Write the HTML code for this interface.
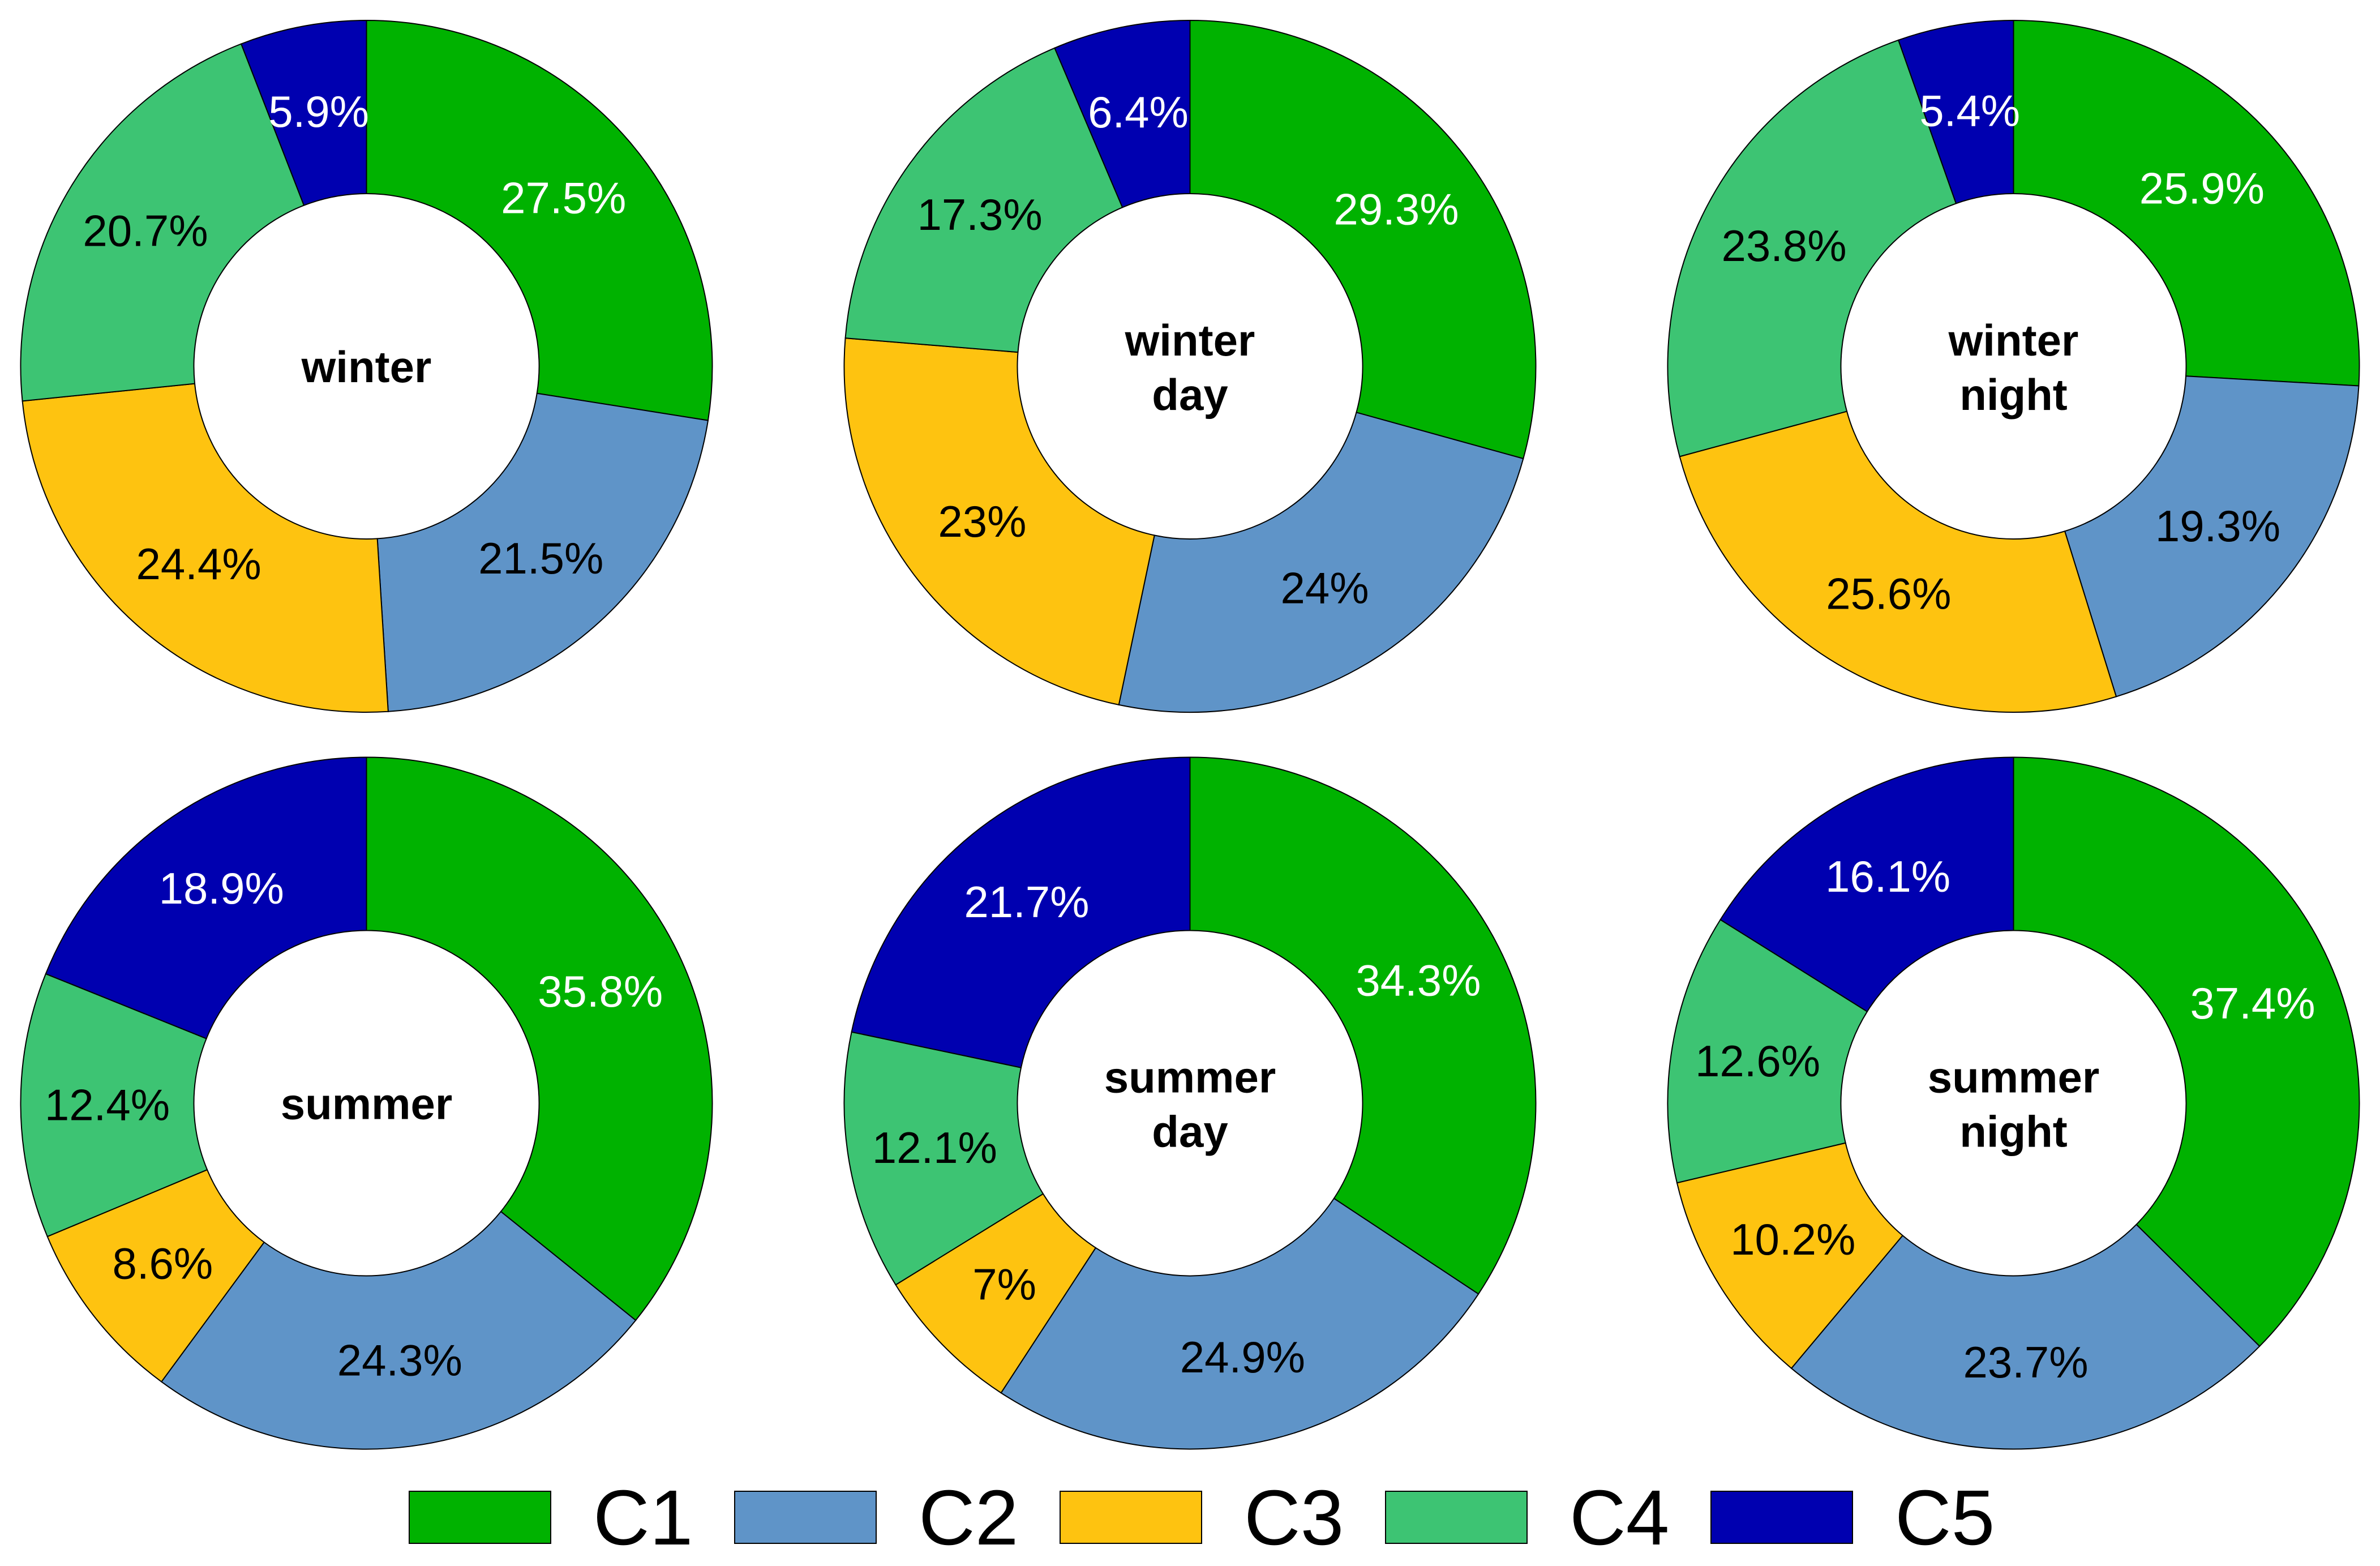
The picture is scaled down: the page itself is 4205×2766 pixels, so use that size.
<!DOCTYPE html>
<html lang="en">
<head>
<meta charset="utf-8">
<title>Cluster share donut charts</title>
<style>
html,body{margin:0;padding:0;background:#fff;}
body{width:4205px;height:2766px;overflow:hidden;}
svg{display:block;}
text{font-family:"Liberation Sans",Arial,sans-serif;}
</style>
</head>
<body>
<svg id="chart" xmlns="http://www.w3.org/2000/svg" width="4205" height="2766" viewBox="0 0 4205 2766"></svg>
<script>
const categories = ['C1', 'C2', 'C3', 'C4', 'C5'];
const winterValues = [27.5, 21.5, 24.4, 20.7, 5.9];
const winterDayValues = [29.3, 24, 23, 17.3, 6.4];
const winterNightValues = [25.9, 19.3, 25.6, 23.8, 5.4];
const summerValues = [35.8, 24.3, 8.6, 12.4, 18.9];
const summerDayValues = [34.3, 24.9, 7, 12.1, 21.7];
const summerNightValues = [37.4, 23.7, 10.2, 12.6, 16.1];
const panelValues = [winterValues, winterDayValues, winterNightValues, summerValues, summerDayValues, summerNightValues];
const panelTitles = [['winter'], ['winter', 'day'], ['winter', 'night'], ['summer'], ['summer', 'day'], ['summer', 'night']];

const sliceColors = ['#00B200', '#5F94C8', '#FEC310', '#3DC473', '#0000B0'];
const labelColors = ['#fff', '#000', '#000', '#000', '#fff'];
const SVG_NS = 'http://www.w3.org/2000/svg';
const svg = document.getElementById('chart');
const OUTER_R = 611;
const INNER_R = 305;
const LABEL_R = 458;

function panelX(col) { return 647.5 + col * 1455; }
function panelY(row) { return 647 + row * 1301.5; }
function angleOf(fraction) { return fraction * 2 * Math.PI; }
function polarX(cx, r, a) { return cx + r * Math.sin(a); }
function polarY(cy, r, a) { return cy - r * Math.cos(a); }
function slug(parts) { return parts.join('-'); }

function slicePath(cx, cy, a0, a1) {
  const large = a1 - a0 > Math.PI ? 1 : 0;
  return 'M' + polarX(cx, OUTER_R, a0) + ' ' + polarY(cy, OUTER_R, a0) +
    'A' + OUTER_R + ' ' + OUTER_R + ' 0 ' + large + ' 1 ' + polarX(cx, OUTER_R, a1) + ' ' + polarY(cy, OUTER_R, a1) +
    'L' + polarX(cx, INNER_R, a1) + ' ' + polarY(cy, INNER_R, a1) +
    'A' + INNER_R + ' ' + INNER_R + ' 0 ' + large + ' 0 ' + polarX(cx, INNER_R, a0) + ' ' + polarY(cy, INNER_R, a0) + 'Z';
}

panelValues.forEach(function (values, p) {
  const cx = panelX(p % 3);
  const cy = panelY(Math.floor(p / 3));
  const name = slug(panelTitles[p]);
  const total = values.reduce(function (s, v) { return s + v; }, 0);

  const group = document.createElementNS(SVG_NS, 'g');
  
  
  svg.appendChild(group);

  let cumulative = 0;
  values.forEach(function (v, i) {
    const a0 = angleOf(cumulative / total);
    const a1 = angleOf((cumulative + v) / total);
    const mid = (a0 + a1) / 2;
    cumulative += v;

    const slice = document.createElementNS(SVG_NS, 'path');
    slice.setAttribute('d', slicePath(cx, cy, a0, a1));
    slice.setAttribute('fill', sliceColors[i]);
    slice.setAttribute('stroke', '#000');
    slice.setAttribute('stroke-width', '2');
    
    
    group.appendChild(slice);

    const label = document.createElementNS(SVG_NS, 'text');
    label.setAttribute('x', polarX(cx, LABEL_R, mid));
    label.setAttribute('y', polarY(cy, LABEL_R, mid) + 27);
    label.setAttribute('text-anchor', 'middle');
    label.setAttribute('font-size', '78');
    label.setAttribute('fill', labelColors[i]);
    
    
    label.textContent = v + '%';
    group.appendChild(label);
  });

  const lines = panelTitles[p];
  lines.forEach(function (line, k) {
    const title = document.createElementNS(SVG_NS, 'text');
    const offset = lines.length === 1 ? 28 : (k === 0 ? -19 : 77);
    title.setAttribute('x', cx);
    title.setAttribute('y', cy + offset);
    title.setAttribute('text-anchor', 'middle');
    title.setAttribute('font-size', '78');
    title.setAttribute('font-weight', 'bold');
    title.setAttribute('fill', '#000');
    
    
    title.textContent = line;
    group.appendChild(title);
  });
});

const legend = document.createElementNS(SVG_NS, 'g');


svg.appendChild(legend);

categories.forEach(function (cat, i) {
  const x = 723 + i * 575;
  const swatch = document.createElementNS(SVG_NS, 'rect');
  swatch.setAttribute('x', x);
  swatch.setAttribute('y', 2634);
  swatch.setAttribute('width', 250);
  swatch.setAttribute('height', 92);
  swatch.setAttribute('fill', sliceColors[i]);
  swatch.setAttribute('stroke', '#000');
  swatch.setAttribute('stroke-width', '2');
  
  
  legend.appendChild(swatch);

  const text = document.createElementNS(SVG_NS, 'text');
  text.setAttribute('x', x + 325);
  text.setAttribute('y', 2728);
  text.setAttribute('font-size', '138');
  text.setAttribute('fill', '#000');
  
  
  text.textContent = cat;
  legend.appendChild(text);
});
</script>
</body>
</html>
